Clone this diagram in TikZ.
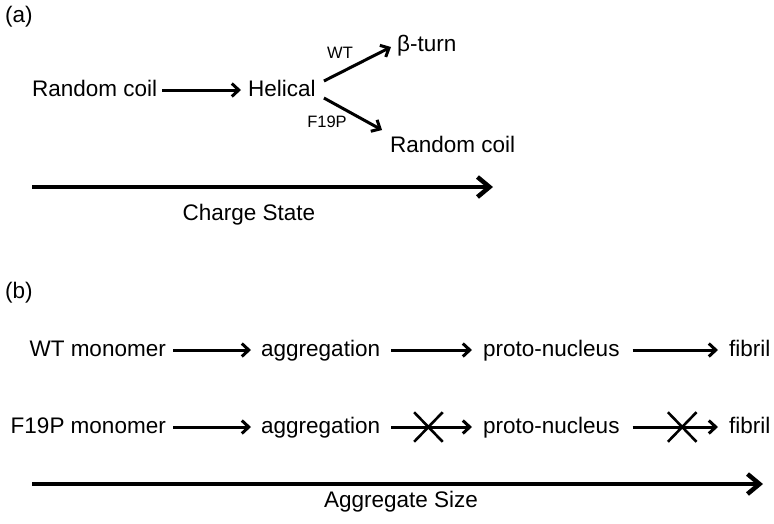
\documentclass[tikz,border=0pt]{standalone}
\usepackage{fontspec}
\setmainfont{Liberation Sans}
\usetikzlibrary{arrows.meta,calc,shapes.misc}
\begin{document}
\begin{tikzpicture}[x=1pt,y=-1pt,
  lbl/.style={inner sep=0pt, font=\fontsize{22.5}{27}\selectfont, text height=16.5pt, text depth=4.5pt},
  small/.style={inner sep=0pt, font=\fontsize{16.5}{19}\selectfont},
  arr/.style={line width=3pt, -{Straight Barb[length=7pt,width=13pt]}},
  axis/.style={line width=4.5pt, -{Straight Barb[length=12pt,width=20pt]}},
  xmark/.style={cross out, draw, line width=2.6pt, minimum width=26pt, minimum height=27pt, inner sep=0pt}
]
\useasboundingbox (0,0) rectangle (774,523);

% ---------- (a) ----------
\node[lbl, anchor=base west] (pa) at (5,22) {(a)};
\node[lbl, anchor=base west] (rc1) at (32,96) {Random coil};
\node[lbl, anchor=base west] (hel) at (248,96) {Helical};
\node[lbl, anchor=base west] (beta) at (397,51) {β-turn};
\node[lbl, anchor=base west] (rc2) at (390,152) {Random coil};
\node[small] (wtl) at (340,53) {WT};
\node[small] (f19l) at (327,122) {F19P};

\draw[arr] ($(rc1.east)+(5,0)$) -- ($(hel.west)+(-7,0)$);
\draw[arr] ($(hel.east)+(8,-9)$) -- ($(beta.west)+(-6,2)$);
\draw[arr] ($(hel.east)+(8,8)$) -- ($(rc2.west)+(-8,-16)$);

\coordinate (ca1) at (32,187);
\coordinate (ca2) at (493,187);
\draw[axis] (ca1) -- (ca2);
\node[lbl, anchor=base] (cs) at (249,220) {Charge State};

% ---------- (b) ----------
\node[lbl, anchor=base west] (pb) at (5,298) {(b)};

\node[lbl, anchor=base east] (wt) at (166,356) {WT monomer};
\node[lbl, anchor=base west] (agg1) at (261,356) {aggregation};
\node[lbl, anchor=base west] (pn1) at (483,356) {proto-nucleus};
\node[lbl, anchor=base west] (fib1) at (729,356) {fibril};

\node[lbl, anchor=base east] (f19) at (166,433) {F19P monomer};
\node[lbl, anchor=base west] (agg2) at (261,433) {aggregation};
\node[lbl, anchor=base west] (pn2) at (483,433) {proto-nucleus};
\node[lbl, anchor=base west] (fib2) at (729,433) {fibril};

\draw[arr] ($(wt.east)+(7,0)$) -- ($(agg1.west)+(-10,0)$);
\draw[arr] ($(agg1.east)+(11,0)$) -- ($(pn1.west)+(-11,0)$);
\draw[arr] ($(pn1.east)+(13,0)$) -- ($(fib1.west)+(-11,0)$);

\draw[arr] ($(f19.east)+(7,0)$) -- ($(agg2.west)+(-10,0)$);
\draw[arr] ($(agg2.east)+(11,0)$) -- node[xmark, pos=0.46] (x1) {} ($(pn2.west)+(-11,0)$);
\draw[arr] ($(pn2.east)+(13,0)$) -- node[xmark, pos=0.58] (x2) {} ($(fib2.west)+(-11,0)$);

\coordinate (sa1) at (32,484);
\coordinate (sa2) at (763,484);
\draw[axis] (sa1) -- (sa2);
\node[lbl, anchor=base] (as) at (401,507) {Aggregate Size};
\end{tikzpicture}
\end{document}
